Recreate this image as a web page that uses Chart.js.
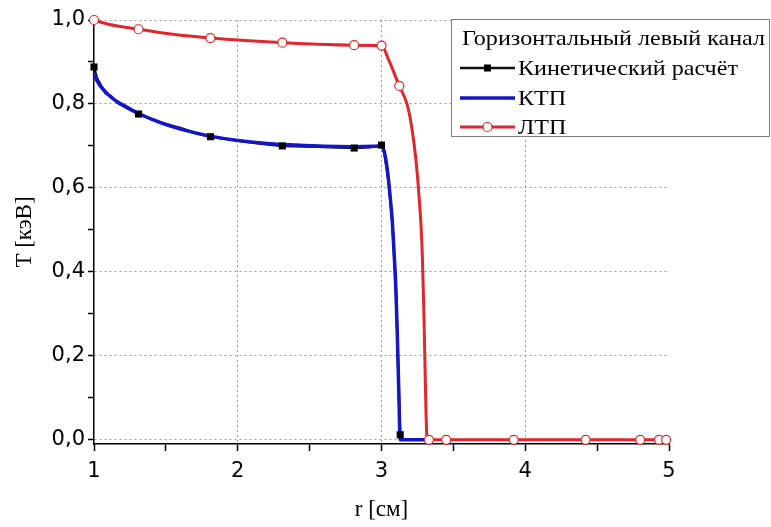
<!DOCTYPE html>
<html>
<head>
<meta charset="utf-8">
<script src="https://cdn.jsdelivr.net/npm/chart.js@4.4.1/dist/chart.umd.min.js"></script>
<style>
  html, body { margin: 0; padding: 0; background: #fff; }
</style>
</head>
<body>
<canvas id="chart" width="771" height="527"></canvas>
<script>
const legendTitle = 'Горизонтальный левый канал';
const seriesNames = ['Кинетический расчёт', 'КТП', 'ЛТП'];

// кинетический расчёт (чёрный, квадраты)
const kinR = [1.00, 1.02, 1.05, 1.08, 1.12, 1.17, 1.22, 1.31, 1.40, 1.50, 1.60, 1.70, 1.81, 2.00,
  2.15, 2.31, 2.55, 2.81, 2.92, 3.00, 3.02, 3.05, 3.075, 3.10, 3.11, 3.12, 3.13];
const kinT = [0.888, 0.862, 0.843, 0.826, 0.818, 0.801, 0.792, 0.776, 0.764, 0.752, 0.743, 0.731, 0.722, 0.713,
  0.706, 0.700, 0.698, 0.695, 0.697, 0.702, 0.684, 0.612, 0.520, 0.360, 0.250, 0.120, 0.012];
const kinMark = [1, 0, 0, 0, 0, 0, 0, 1, 0, 0, 0, 0, 1, 0, 0, 1, 0, 1, 0, 1, 0, 0, 0, 0, 0, 0, 1];

// КТП (синий)
const ktpR = [1.00, 1.02, 1.05, 1.10, 1.15, 1.20, 1.30, 1.40, 1.50, 1.65, 1.80, 2.00, 2.20, 2.40,
  2.60, 2.80, 2.95, 3.00, 3.02, 3.04, 3.05, 3.06, 3.075, 3.09, 3.10, 3.11, 3.12, 3.13, 3.32];
const ktpT = [0.872, 0.856, 0.840, 0.822, 0.808, 0.798, 0.779, 0.764, 0.751, 0.736, 0.724, 0.713, 0.706, 0.702,
  0.699, 0.698, 0.699, 0.700, 0.685, 0.645, 0.615, 0.580, 0.520, 0.430, 0.360, 0.250, 0.120, 0.000, 0.000];

// ЛТП (красный, кружки)
const ltpR = [1.00, 1.10, 1.31, 1.55, 1.81, 2.05, 2.31, 2.55, 2.81, 3.00, 3.05, 3.124, 3.177,
  3.21, 3.24, 3.26, 3.275, 3.285, 3.295, 3.303, 3.31, 3.318, 3.33, 3.45, 3.92, 4.42, 4.80, 4.93, 4.98];
const ltpT = [1.000, 0.990, 0.978, 0.966, 0.957, 0.951, 0.946, 0.942, 0.940, 0.939, 0.905, 0.843, 0.800,
  0.745, 0.665, 0.585, 0.510, 0.430, 0.300, 0.170, 0.060, 0.000, 0.000, 0.000, 0.000, 0.000, 0.000, 0.000, 0.000];
const ltpMark = [1, 0, 1, 0, 1, 0, 1, 0, 1, 1, 0, 1, 0,
  0, 0, 0, 0, 0, 0, 0, 0, 0, 1, 1, 1, 1, 1, 1, 1];

const xTicks = [1, 1.5, 2, 2.5, 3, 3.5, 4, 4.5, 5];
const xTickLabels = ['1', '', '2', '', '3', '', '4', '', '5'];
const yTicks = [0, 0.1, 0.2, 0.3, 0.4, 0.5, 0.6, 0.7, 0.8, 0.9, 1.0];
const yTickLabels = ['0,0', '', '0,2', '', '0,4', '', '0,6', '', '0,8', '', '1,0'];

const BLACK = '#111111';
const BLUE = '#1414c8';
const RED = '#e3262b';
const GRID = '#9a9a9a';

const pts = (xs, ys) => xs.map((x, i) => ({ x, y: ys[i] }));

const boxLegend = {
  id: 'boxLegend',
  afterDraw(chart) {
    const ctx = chart.ctx;
    const left = 451, top = 19, right = 770, bottom = 137;
    ctx.save();
    ctx.fillStyle = '#fff';
    ctx.fillRect(left, top, right - left, bottom - top);
    ctx.strokeStyle = '#808080';
    ctx.lineWidth = 1;
    ctx.strokeRect(left + 0.5, top + 0.5, right - left - 1, bottom - top - 1);

    ctx.font = '21px "Liberation Serif"';
    ctx.textBaseline = 'middle';
    ctx.fillStyle = '#000';
    const sx = 303 / ctx.measureText(legendTitle).width;
    const text = (t, x, y) => {
      ctx.save();
      ctx.translate(x, y);
      ctx.scale(sx, 1);
      ctx.fillText(t, 0, 0);
      ctx.restore();
    };
    text(legendTitle, 462, 39);

    const rows = [68, 98, 127];
    const styles = [
      { color: BLACK, width: 2.5, marker: 'rect' },
      { color: BLUE, width: 3.5, marker: null },
      { color: RED, width: 3, marker: 'circle' }
    ];
    rows.forEach((y, i) => {
      const s = styles[i];
      ctx.strokeStyle = s.color;
      ctx.lineWidth = s.width;
      ctx.beginPath();
      ctx.moveTo(460, y);
      ctx.lineTo(515, y);
      ctx.stroke();
      if (s.marker === 'rect') {
        ctx.fillStyle = '#000';
        ctx.fillRect(484, y - 3.5, 7, 7);
      } else if (s.marker === 'circle') {
        ctx.fillStyle = '#fff';
        ctx.strokeStyle = RED;
        ctx.lineWidth = 1.2;
        ctx.beginPath();
        ctx.arc(487.5, y, 4.5, 0, Math.PI * 2);
        ctx.fill();
        ctx.stroke();
      }
      ctx.fillStyle = '#000';
      text(seriesNames[i], 518, y + 1);
    });
    ctx.restore();
  }
};

const isMajor = (v, k) => Math.abs(v * k - Math.round(v * k)) < 1e-6;

new Chart(document.getElementById('chart'), {
  type: 'line',
  data: {
    datasets: [
      {
        label: seriesNames[0],
        data: pts(kinR, kinT),
        borderColor: BLACK,
        borderWidth: 2.5,
        pointRadius: 0,
        tension: 0,
        clip: false,
        order: 4
      },
      {
        label: seriesNames[1],
        data: pts(ktpR, ktpT),
        borderColor: BLUE,
        borderWidth: 3.5,
        pointRadius: 0,
        cubicInterpolationMode: 'monotone',
        clip: false,
        order: 3
      },
      {
        label: seriesNames[0] + ' (маркеры)',
        data: pts(kinR, kinT).filter((p, i) => kinMark[i]),
        showLine: false,
        pointStyle: 'rect',
        pointRadius: 5,
        pointBackgroundColor: '#000',
        pointBorderColor: '#000',
        pointBorderWidth: 0,
        clip: false,
        order: 2
      },
      {
        label: seriesNames[2],
        data: pts(ltpR, ltpT),
        borderColor: RED,
        borderWidth: 3,
        cubicInterpolationMode: 'monotone',
        pointRadius: c => (ltpMark[c.dataIndex] ? 4.5 : 0),
        pointBackgroundColor: '#fff',
        pointBorderColor: RED,
        pointBorderWidth: 1.2,
        clip: false,
        order: 1
      }
    ]
  },
  options: {
    responsive: false,
    animation: false,
    devicePixelRatio: 1,
    layout: { padding: { left: 0, right: 102, top: 20, bottom: 0 } },
    plugins: {
      legend: { display: false },
      tooltip: { enabled: false }
    },
    scales: {
      x: {
        type: 'linear',
        min: 1,
        max: 5,
        afterBuildTicks: s => { s.ticks = xTicks.map(v => ({ value: v })); },
        afterFit: s => { s.height = 83; },
        ticks: {
          callback: (v, i) => xTickLabels[i],
          autoSkip: false,
          maxRotation: 0,
          color: '#000',
          padding: 8,
          font: { family: 'DejaVu Sans', size: 21 }
        },
        grid: {
          color: c => (c.tick && isMajor(c.tick.value, 1) && c.tick.value > 1 && c.tick.value < 5 ? GRID : 'rgba(0,0,0,0)'),
          lineWidth: 1,
          tickColor: '#000',
          tickLength: 7,
          tickWidth: 1.5
        },
        border: { color: '#000', width: 1.5, dash: [2, 3] },
        title: {
          display: true,
          text: 'r [см]',
          color: '#000',
          font: { family: 'Liberation Serif', size: 23 },
          padding: { top: 0, bottom: 3 }
        }
      },
      y: {
        type: 'linear',
        min: -0.01,
        max: 1.0,
        afterBuildTicks: s => { s.ticks = yTicks.map(v => ({ value: v })); },
        afterFit: s => { s.width = 94; },
        ticks: {
          callback: (v, i) => yTickLabels[i],
          autoSkip: false,
          color: '#000',
          padding: 3,
          font: { family: 'DejaVu Sans', size: 21 }
        },
        grid: {
          color: c => (c.tick && isMajor(c.tick.value, 5) ? GRID : 'rgba(0,0,0,0)'),
          lineWidth: 1,
          tickColor: '#000',
          tickLength: 6,
          tickWidth: 1.5
        },
        border: { color: '#000', width: 1.5, dash: [2, 3] },
        title: {
          display: true,
          text: 'T [кэВ]',
          color: '#000',
          font: { family: 'Liberation Serif', size: 23 },
          padding: { top: 11, bottom: 0 }
        }
      }
    }
  },
  plugins: [boxLegend]
});
</script>
</body>
</html>
